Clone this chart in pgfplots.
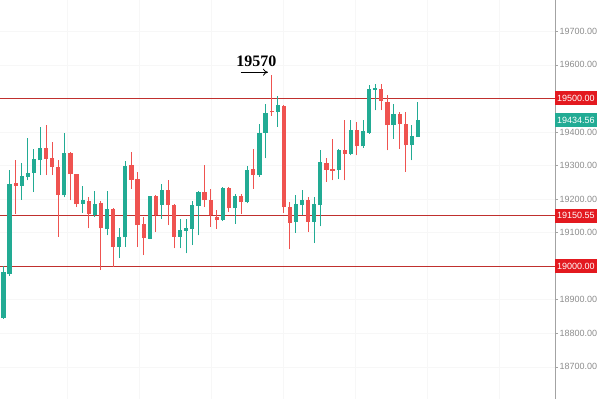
\documentclass[border=0pt]{standalone}
\usepackage{pgfplots}
\usepackage{pgfplotstable}
\pgfplotsset{compat=1.18}
\usepackage{fontspec}
\setmainfont{Liberation Sans}
\newfontfamily\serifb{Liberation Serif}
\usetikzlibrary{arrows.meta}
\definecolor{gcol}{HTML}{22AB94}
\definecolor{rcol}{HTML}{EF5350}
\definecolor{lcol}{HTML}{C0302E}
\definecolor{rlab}{HTML}{E3191F}
\definecolor{glab}{HTML}{22AB94}
\definecolor{tcol}{HTML}{8C8C8C}

\pgfplotstableread{
x o h l c
0 18845 19000 18843 18982
1 18976 19286 18972 19244
3 19240 19307 19198 19268
4 19266 19381 19256 19278
5 19278 19348 19221 19318
6 19315 19415 19271 19351
10 19211 19396 19205 19336
13 19185 19238 19158 19196
15 19153 19224 19147 19185
17 19110 19223 19092 19170
19 19057 19113 19024 19086
20 19086 19313 19057 19298
24 19082 19210 19080 19208
26 19182 19246 19142 19226
29 19087 19142 19053 19107
30 19105 19142 19038 19115
31 19112 19194 19063 19182
32 19180 19223 19092 19221
36 19137 19235 19134 19233
38 19172 19216 19127 19208
40 19191 19298 19187 19288
42 19271 19425 19266 19397
43 19397 19484 19321 19456
45 19459 19506 19415 19479
48 19131 19211 19099 19185
49 19182 19226 19152 19196
51 19132 19206 19069 19185
52 19182 19347 19119 19310
55 19288 19350 19261 19345
57 19335 19435 19330 19405
59 19357 19435 19353 19402
60 19397 19539 19395 19529
61 19526 19544 19464 19531
64 19420 19484 19380 19454
67 19360 19420 19315 19387
68 19385 19489 19385 19434.56
}\greentab

\pgfplotstableread{
x o h l c
2 19248 19315 19155 19240
7 19351 19420 19271 19319
8 19321 19370 19271 19296
9 19296 19315 19087 19213
11 19336 19340 19196 19274
12 19274 19276 19176 19185
14 19194 19205 19113 19155
16 19187 19194 18988 19113
18 19170 19172 18998 19057
21 19301 19340 19231 19258
22 19261 19281 19057 19122
23 19125 19147 19033 19085
25 19208 19211 19102 19152
27 19226 19258 19122 19182
28 19182 19184 19053 19087
33 19221 19301 19176 19196
34 19196 19231 19117 19152
35 19147 19167 19112 19137
37 19233 19235 19162 19172
39 19208 19216 19155 19191
41 19291 19350 19231 19271
44 19462 19570 19449 19458
46 19476 19479 19158 19175
47 19175 19191 19050 19129
50 19196 19206 19102 19132
53 19307 19321 19251 19288
54 19290 19380 19256 19285
56 19345 19437 19256 19335
58 19405 19430 19330 19357
62 19529 19544 19464 19492
63 19489 19509 19345 19420
65 19454 19459 19350 19425
66 19423 19459 19281 19360
}\redtab

\begin{document}
\begin{tikzpicture}
\begin{axis}[
  at={(0,0)}, anchor=south west,
  scale only axis, width=555pt, height=399pt,
  xmin=-0.49, xmax=90.5, ymin=18604, ymax=19792,
  clip=false,
  scaled y ticks=false,
  axis y line*=right,
  axis x line*=bottom,
  x axis line style={draw=none},
  y axis line style={draw=tcol!80, line width=0.8pt},
  xtick={10.5,22.3,34.1,45.9,57.7,69.5,81.3},
  xticklabels={},
  x tick style={draw=none},
  xmajorgrids, ymajorgrids,
  major grid style={draw=gray!6, line width=0.6pt},
  ytick={18700,18800,18900,19000,19100,19200,19300,19400,19500,19600,19700},
  yticklabels={18700.00,18800.00,18900.00,,19100.00,19200.00,19300.00,19400.00,,19600.00,19700.00},
  y tick style={draw=tcol!80, line width=0.6pt},
  tick align=outside, major tick length=3pt,
  yticklabel style={font=\fontsize{9}{10}\selectfont, text=tcol, anchor=west, inner xsep=1.5pt},
]
\addplot[lcol, line width=0.9pt, mark=none] coordinates {(-0.49,19500) (90.5,19500)};
\addplot[lcol, line width=0.9pt, mark=none] coordinates {(-0.49,19150.55) (90.5,19150.55)};
\addplot[lcol, line width=0.9pt, mark=none] coordinates {(-0.49,19000) (90.5,19000)};
\addplot[draw=none, mark=none, error bars/.cd, y dir=plus, y explicit, error mark=none,
  error bar style={draw=gcol, line width=1pt}]
  table[x=x, y=l, y error plus expr=\thisrow{h}-\thisrow{l}] {\greentab};
\addplot[draw=none, mark=none, error bars/.cd, y dir=plus, y explicit, error mark=none,
  error bar style={draw=rcol, line width=1pt}]
  table[x=x, y=l, y error plus expr=\thisrow{h}-\thisrow{l}] {\redtab};
\addplot[draw=none, mark=none, error bars/.cd, y dir=plus, y explicit, error mark=none,
  error bar style={draw=gcol, line width=4.2pt}]
  table[x=x, y=o, y error plus expr=\thisrow{c}-\thisrow{o}] {\greentab};
\addplot[draw=none, mark=none, error bars/.cd, y dir=plus, y explicit, error mark=none,
  error bar style={draw=rcol, line width=4.2pt}]
  table[x=x, y=c, y error plus expr=\thisrow{o}-\thisrow{c}] {\redtab};
\node[fill=rlab, text=white, anchor=west, inner xsep=2pt, inner ysep=0pt, minimum height=14pt, font=\fontsize{9}{10}\selectfont] at (axis cs:90.5,19500) {19500.00};
\node[fill=glab, text=white, anchor=west, inner xsep=2pt, inner ysep=0pt, minimum height=14pt, font=\fontsize{9}{10}\selectfont] at (axis cs:90.5,19434.56) {19434.56};
\node[fill=rlab, text=white, anchor=west, inner xsep=2pt, inner ysep=0pt, minimum height=14pt, font=\fontsize{9}{10}\selectfont] at (axis cs:90.5,19150.55) {19150.55};
\node[fill=rlab, text=white, anchor=west, inner xsep=2pt, inner ysep=0pt, minimum height=14pt, font=\fontsize{9}{10}\selectfont] at (axis cs:90.5,19000) {19000.00};
\node[font=\serifb\bfseries\fontsize{16}{18}\selectfont, text=black] at (axis cs:41.5,19612) {19570};
\draw[black, line width=0.8pt, -{To[length=5pt,width=7pt]}] (axis cs:38.9,19578) -- (axis cs:43.4,19578);
\end{axis}
\path (0,0) rectangle (600pt,399pt);
\end{tikzpicture}
\end{document}
